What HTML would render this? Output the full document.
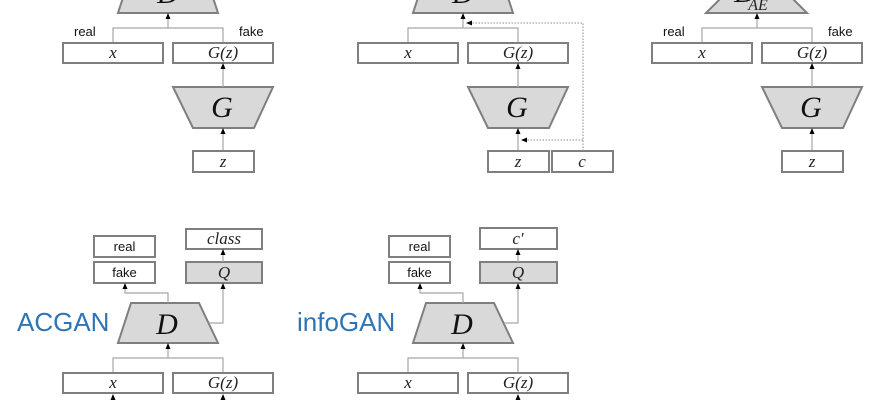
<!DOCTYPE html>
<html><head><meta charset="utf-8"><style>
html,body{margin:0;padding:0;background:#fff;}
svg{display:block;}
.bx{fill:#fff;stroke:#7f7f7f;stroke-width:2;}
.gb{fill:#d9d9d9;stroke:#7f7f7f;stroke-width:2;}
.ln{fill:none;stroke:#a6a6a6;stroke-width:1.2;}
.dt{fill:none;stroke:#8c8c8c;stroke-width:1;stroke-dasharray:1.5,1.5;}
.ah{fill:#000;}
.m{font-family:"Liberation Serif",serif;font-style:italic;font-size:17px;fill:#222;text-anchor:middle;}
.big{font-family:"Liberation Serif",serif;font-style:italic;font-size:30px;fill:#111;text-anchor:middle;}
.s{font-family:"Liberation Sans",sans-serif;font-size:13px;fill:#111;}
.sc{font-family:"Liberation Sans",sans-serif;font-size:13px;fill:#111;text-anchor:middle;}
.t{font-family:"Liberation Sans",sans-serif;font-size:26px;fill:#2e75b6;}
</style></head><body>
<svg width="870" height="400" viewBox="0 0 870 400" xmlns="http://www.w3.org/2000/svg">
<defs>
<g id="au"><polygon points="0,0 -2.5,6 2.5,6"/></g>
</defs>

<!-- ===== Panel 1 (GAN) ===== -->
<g>
<polygon class="gb" points="118,13 218,13 205,-27 131,-27"/>
<text class="big" x="168" y="3">D</text>
<polyline class="ln" points="113,43 113,28 223,28 223,43"/>
<line class="ln" x1="168" y1="28" x2="168" y2="16"/>
<polygon class="ah" points="168,13 165.5,19 170.5,19"/>
<text class="s" x="74" y="36">real</text>
<text class="s" x="239" y="36">fake</text>
<rect class="bx" x="63" y="43" width="100" height="20"/>
<text class="m" x="113" y="58">x</text>
<rect class="bx" x="173" y="43" width="100" height="20"/>
<text class="m" x="223" y="58">G(z)</text>
<polygon class="gb" points="173,87 273,87 254,128 193,128"/>
<text class="big" x="222" y="117">G</text>
<line class="ln" x1="223" y1="87" x2="223" y2="66"/>
<polygon class="ah" points="223,63 220.5,69 225.5,69"/>
<line class="ln" x1="223" y1="151" x2="223" y2="131"/>
<polygon class="ah" points="223,128 220.5,134 225.5,134"/>
<rect class="bx" x="193" y="151" width="61" height="21"/>
<text class="m" x="223" y="167">z</text>
</g>

<!-- ===== Panel 2 (CGAN) ===== -->
<g>
<polygon class="gb" points="413,13 513,13 500,-27 426,-27"/>
<text class="big" x="463" y="3">D</text>
<polyline class="ln" points="408,43 408,28 518,28 518,43"/>
<line class="ln" x1="463" y1="28" x2="463" y2="16"/>
<polygon class="ah" points="463,13 460.5,19 465.5,19"/>
<rect class="bx" x="358" y="43" width="100" height="20"/>
<text class="m" x="408" y="58">x</text>
<rect class="bx" x="468" y="43" width="100" height="20"/>
<text class="m" x="518" y="58">G(z)</text>
<polygon class="gb" points="468,87 568,87 549,128 488,128"/>
<text class="big" x="517" y="117">G</text>
<line class="ln" x1="518" y1="87" x2="518" y2="66"/>
<polygon class="ah" points="518,63 515.5,69 520.5,69"/>
<line class="ln" x1="518" y1="151" x2="518" y2="131"/>
<polygon class="ah" points="518,128 515.5,134 520.5,134"/>
<rect class="bx" x="488" y="151" width="61" height="21"/>
<text class="m" x="518" y="167">z</text>
<rect class="bx" x="552" y="151" width="61" height="21"/>
<text class="m" x="582" y="167">c</text>
<polyline class="dt" points="583,151 583,23 471,23"/>
<polygon class="ah" points="466,23 472,20.5 472,25.5"/>
<line class="dt" x1="583" y1="140" x2="527" y2="140"/>
<polygon class="ah" points="521,140 527,137.5 527,142.5"/>
</g>

<!-- ===== Panel 3 (EBGAN) ===== -->
<g>
<polygon class="gb" points="706,13 807,13 780,-14 733,-14"/>
<text class="big" x="745" y="2">D</text>
<text class="m" x="758" y="10" style="font-size:16px">AE</text>
<polyline class="ln" points="702,43 702,28 812,28 812,43"/>
<line class="ln" x1="757" y1="28" x2="757" y2="16"/>
<polygon class="ah" points="757,13 754.5,19 759.5,19"/>
<text class="s" x="663" y="36">real</text>
<text class="s" x="828" y="36">fake</text>
<rect class="bx" x="652" y="43" width="100" height="20"/>
<text class="m" x="702" y="58">x</text>
<rect class="bx" x="762" y="43" width="100" height="20"/>
<text class="m" x="812" y="58">G(z)</text>
<polygon class="gb" points="762,87 862,87 843,128 782,128"/>
<text class="big" x="811" y="117">G</text>
<line class="ln" x1="812" y1="87" x2="812" y2="66"/>
<polygon class="ah" points="812,63 809.5,69 814.5,69"/>
<line class="ln" x1="812" y1="151" x2="812" y2="131"/>
<polygon class="ah" points="812,128 809.5,134 814.5,134"/>
<rect class="bx" x="782" y="151" width="61" height="21"/>
<text class="m" x="812" y="167">z</text>
</g>

<!-- ===== ACGAN ===== -->
<g>
<text class="t" x="17" y="331">ACGAN</text>
<rect class="bx" x="94" y="236" width="61" height="21"/>
<text class="sc" x="124.5" y="251">real</text>
<rect class="bx" x="94" y="262" width="61" height="21"/>
<text class="sc" x="124.5" y="277">fake</text>
<rect class="bx" x="186" y="229" width="76" height="20"/>
<text class="m" x="224" y="244">class</text>
<rect class="gb" x="186" y="262" width="76" height="21"/>
<text class="m" x="224" y="278">Q</text>
<line class="ln" x1="223" y1="262" x2="223" y2="252"/>
<polygon class="ah" points="223,249 220.5,255 225.5,255"/>
<polygon class="gb" points="118,343 218,343 199,303 131,303"/>
<text class="big" x="167" y="334">D</text>
<polyline class="ln" points="168,303 168,293 125,293 125,286"/>
<polygon class="ah" points="125,283 122.5,289 127.5,289"/>
<polyline class="ln" points="209,323 223,323 223,286"/>
<polygon class="ah" points="223,283 220.5,289 225.5,289"/>
<polyline class="ln" points="113,373 113,358 223,358 223,373"/>
<line class="ln" x1="168" y1="358" x2="168" y2="346"/>
<polygon class="ah" points="168,343 165.5,349 170.5,349"/>
<rect class="bx" x="63" y="373" width="100" height="20"/>
<text class="m" x="113" y="388">x</text>
<rect class="bx" x="173" y="373" width="100" height="20"/>
<text class="m" x="223" y="388">G(z)</text>
<line class="ln" x1="113" y1="400" x2="113" y2="396"/>
<polygon class="ah" points="113,394 110.5,400 115.5,400"/>
<line class="ln" x1="223" y1="400" x2="223" y2="396"/>
<polygon class="ah" points="223,394 220.5,400 225.5,400"/>
</g>

<!-- ===== infoGAN ===== -->
<g>
<text class="t" x="297" y="331">infoGAN</text>
<rect class="bx" x="389" y="236" width="61" height="21"/>
<text class="sc" x="419.5" y="251">real</text>
<rect class="bx" x="389" y="262" width="61" height="21"/>
<text class="sc" x="419.5" y="277">fake</text>
<rect class="bx" x="480" y="228" width="77" height="21"/>
<text class="m" x="518" y="244">c′</text>
<rect class="gb" x="480" y="262" width="77" height="21"/>
<text class="m" x="518" y="278">Q</text>
<line class="ln" x1="518" y1="262" x2="518" y2="252"/>
<polygon class="ah" points="518,249 515.5,255 520.5,255"/>
<polygon class="gb" points="413,343 513,343 494,303 426,303"/>
<text class="big" x="462" y="334">D</text>
<polyline class="ln" points="463,303 463,293 420,293 420,286"/>
<polygon class="ah" points="420,283 417.5,289 422.5,289"/>
<polyline class="ln" points="504,323 518,323 518,286"/>
<polygon class="ah" points="518,283 515.5,289 520.5,289"/>
<polyline class="ln" points="408,373 408,358 518,358 518,373"/>
<line class="ln" x1="463" y1="358" x2="463" y2="346"/>
<polygon class="ah" points="463,343 460.5,349 465.5,349"/>
<rect class="bx" x="358" y="373" width="100" height="20"/>
<text class="m" x="408" y="388">x</text>
<rect class="bx" x="468" y="373" width="100" height="20"/>
<text class="m" x="518" y="388">G(z)</text>
<line class="ln" x1="518" y1="400" x2="518" y2="396"/>
<polygon class="ah" points="518,394 515.5,400 520.5,400"/>
</g>
</svg>
</body></html>
